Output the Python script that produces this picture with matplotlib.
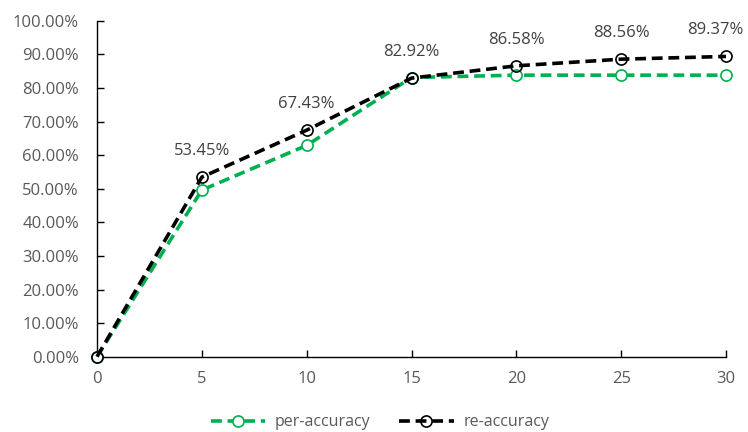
import matplotlib.pyplot as plt
from matplotlib.ticker import PercentFormatter

epochs = [0, 5, 10, 15, 20, 25, 30]
per_accuracy = [0.0, 0.496, 0.629, 0.831, 0.838, 0.838, 0.838]
re_accuracy = [0.0, 0.5345, 0.6743, 0.8292, 0.8658, 0.8856, 0.8937]

plt.rcParams['font.family'] = ['Open Sans', 'DejaVu Sans']

fig = plt.figure(figsize=(7.48, 4.32), dpi=100)
ax = fig.add_axes([0.1297, 0.1743, 0.8409, 0.7777])

green = '#00B050'
ax.plot(epochs, per_accuracy, color=green, ls='--', lw=2.6, dashes=(3, 1.6),
        marker='o', ms=8, mfc='white', mec=green, mew=1.2,
        label='per-accuracy', clip_on=False, zorder=3)
ax.plot(epochs, re_accuracy, color='black', ls='--', lw=2.6, dashes=(3, 1.6),
        marker='o', ms=8, mfc='none', mec='black', mew=1.2,
        label='re-accuracy', clip_on=False, zorder=4)

for x, y in zip(epochs[1:], re_accuracy[1:]):
    dx = -8 if x == epochs[-1] else 0
    ax.annotate(f'{y*100:.2f}%', (x, y), xytext=(dx, 13), textcoords='offset points',
                ha='center', va='bottom', fontsize=12, color='#404040')

ax.set_xlim(0, 30)
ax.set_ylim(0, 1)
ax.set_xticks(epochs)
ax.set_yticks([i / 10 for i in range(11)])
ax.yaxis.set_major_formatter(PercentFormatter(1.0, decimals=2))

for s in ['top', 'right']:
    ax.spines[s].set_visible(False)
for s in ['left', 'bottom']:
    ax.spines[s].set_color('black')
    ax.spines[s].set_linewidth(1.0)

ax.tick_params(direction='in', length=5, width=1, colors='black',
               labelcolor='#595959', labelsize=12)
ax.tick_params(axis='x', pad=10)
ax.tick_params(axis='y', pad=13)

ax.legend(loc='center', bbox_to_anchor=(0.45, -0.195), ncol=2, frameon=False,
          fontsize=11.5, labelcolor='#595959', handlelength=3.4, columnspacing=1.8,
          handletextpad=0.6)

fig.savefig('out.png', dpi=100)
